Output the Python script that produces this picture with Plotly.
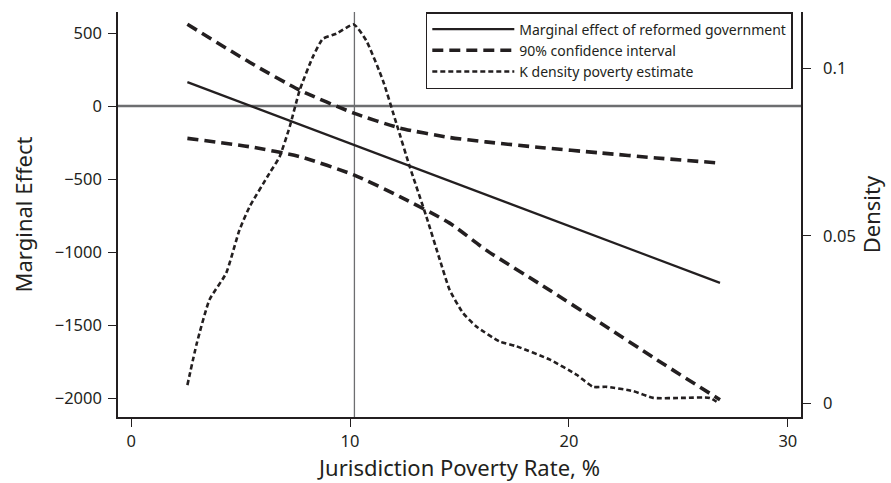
import plotly.graph_objects as go

# Marginal effect of reformed government across poverty rates (linear)
me_x = [2.57, 26.9]
me_y = [164, -1210]

# 90% confidence interval bounds
ci_x = [2.57, 5.41, 7.7, 10.17, 12.27, 14.55, 16.2, 18.8, 21.4, 24.0, 26.9]
ci_upper = [560, 300, 109, -48, -150, -215, -245, -285, -320, -355, -390]
ci_lower = [-221, -278, -346, -471, -619, -801, -984, -1230, -1480, -1735, -2010]

# Kernel density of jurisdiction poverty rates
kd_x = [2.57, 3.0, 3.58, 4.34, 4.95, 5.41, 6.32, 6.78, 7.24, 7.7, 8.3, 8.76,
        9.37, 10.17, 10.74, 11.5, 12.12, 12.73, 13.49, 14.1, 14.55, 15.16,
        15.77, 16.84, 17.6, 19.13, 20.35, 21.1, 21.72, 22.94, 23.85, 25.22,
        26.44, 26.82]
kd_y = [0.0055, 0.018, 0.031, 0.0389, 0.0518, 0.0587, 0.0687, 0.0736, 0.0825,
        0.0935, 0.1034, 0.1088, 0.1103, 0.1131, 0.1083, 0.0964, 0.0835, 0.0706,
        0.0557, 0.0429, 0.0339, 0.027, 0.023, 0.0185, 0.0171, 0.0131, 0.0086,
        0.005, 0.005, 0.0037, 0.0017, 0.0017, 0.0017, 0.0002]

mean_poverty = 10.2

x_ticks = [0, 10, 20, 30]
y_ticks = [500, 0, -500, -1000, -1500, -2000]
y_tick_text = ["500", "0", "\u2212500", "\u22121000", "\u22121500", "\u22122000"]
d_ticks = [0, 0.05, 0.1]
d_tick_text = ["0", "0.05", "0.1"]

FONT = "Noto Sans"
INK = "#231f20"
GREY = "#6d6e70"

fig = go.Figure()

fig.add_trace(go.Scatter(
    x=me_x, y=me_y, mode="lines", name="Marginal effect of reformed government",
    line=dict(color=INK, width=2.2)))
fig.add_trace(go.Scatter(
    x=ci_x, y=ci_upper, mode="lines", name="90% confidence interval",
    line=dict(color=INK, width=3.6, dash="11px,6px", shape="spline", smoothing=0.6)))
fig.add_trace(go.Scatter(
    x=ci_x, y=ci_lower, mode="lines", name="90% confidence interval", showlegend=False,
    line=dict(color=INK, width=3.6, dash="11px,6px", shape="spline", smoothing=0.6)))
fig.add_trace(go.Scatter(
    x=kd_x, y=kd_y, mode="lines", name="K density poverty estimate", yaxis="y2",
    line=dict(color=INK, width=2.6, dash="5px,3px", shape="spline", smoothing=0.5)))

# zero reference and mean poverty rate
fig.add_hline(y=0, line=dict(color=GREY, width=2.5), layer="below")
fig.add_vline(x=mean_poverty, line=dict(color=GREY, width=1.3), layer="below")

axis_common = dict(
    showgrid=False, zeroline=False, showline=True, linecolor=INK, linewidth=1.6,
    ticks="outside", tickcolor=INK, tickwidth=1.4, ticklen=8,
    tickfont=dict(family=FONT, size=16.5, color=INK), automargin=False,
)
title_font = dict(family=FONT, size=22, color=INK)

fig.update_layout(
    width=891, height=483,
    margin=dict(l=118, r=90, t=12, b=66),
    paper_bgcolor="white", plot_bgcolor="white",
    font=dict(family=FONT, color=INK),
    xaxis=dict(
        **axis_common, range=[-0.6, 30.6], tickvals=x_ticks,
        title=dict(text="Jurisdiction Poverty Rate, %", font=title_font, standoff=9),
    ),
    yaxis=dict(
        **axis_common, range=[-2128, 644], tickvals=y_ticks, ticktext=y_tick_text,
        ticklabelstandoff=3,
        title=dict(text="Marginal Effect", font=title_font, standoff=16),
    ),
    yaxis2=dict(
        **axis_common, overlaying="y", side="right", range=[-0.0040, 0.1168],
        tickvals=d_ticks, ticktext=d_tick_text, ticklabelstandoff=9,
        title=dict(text="Density", font=title_font, standoff=7),
    ),
    legend=dict(
        x=0.988, xanchor="right", y=1.0, yanchor="top",
        bgcolor="white", bordercolor=INK, borderwidth=1.5,
        font=dict(family=FONT, size=14, color=INK),
        itemwidth=82, tracegroupgap=0,
    ),
    showlegend=True,
)

fig.write_html("out.html")
